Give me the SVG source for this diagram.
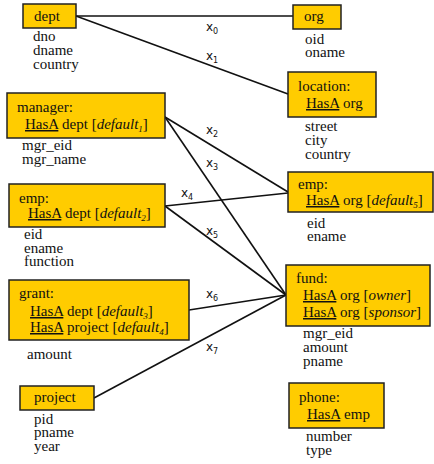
<svg xmlns="http://www.w3.org/2000/svg" width="434" height="464" viewBox="0 0 434 464" font-family="Liberation Serif, Times New Roman, serif">
<style>
.box{fill:#FFCC00;stroke:#222;stroke-width:1.5}
.t{font-family:"Liberation Serif","Times New Roman",serif;font-size:15px;fill:#111}
.lbl{font-family:"DejaVu Sans","Liberation Sans",sans-serif;font-size:12px;fill:#111}
.sub{font-size:8px}
.ln{stroke:#111;stroke-width:1.6;fill:none}
</style>
<rect width="434" height="464" fill="#fff"/>
<g id="connectors">
<line class="ln" x1="76" y1="16" x2="293" y2="16"/>
<line class="ln" x1="76" y1="16" x2="288" y2="94"/>
<line class="ln" x1="165" y1="117" x2="288" y2="192"/>
<line class="ln" x1="165" y1="117" x2="286" y2="295"/>
<line class="ln" x1="165" y1="206" x2="288" y2="193"/>
<line class="ln" x1="165" y1="206" x2="286" y2="295"/>
<line class="ln" x1="189" y1="310" x2="286" y2="295"/>
<line class="ln" x1="94" y1="398" x2="286" y2="295"/>
<text class="lbl" x="206" y="31">x<tspan class="sub" dy="3">0</tspan></text>
<text class="lbl" x="206" y="60">x<tspan class="sub" dy="3">1</tspan></text>
<text class="lbl" x="206" y="134">x<tspan class="sub" dy="3">2</tspan></text>
<text class="lbl" x="206" y="167">x<tspan class="sub" dy="3">3</tspan></text>
<text class="lbl" x="181" y="197">x<tspan class="sub" dy="3">4</tspan></text>
<text class="lbl" x="206" y="235">x<tspan class="sub" dy="3">5</tspan></text>
<text class="lbl" x="206" y="298">x<tspan class="sub" dy="3">6</tspan></text>
<text class="lbl" x="206" y="351">x<tspan class="sub" dy="3">7</tspan></text>
</g>
<g id="dept">
<rect class="box" x="23" y="4" width="53" height="24"/>
<text class="t" x="34" y="21">dept</text>
<text class="t" x="33" y="41">dno</text><text class="t" x="33" y="55">dname</text><text class="t" x="33" y="69">country</text>
</g>
<g id="org">
<rect class="box" x="293" y="5" width="48" height="24"/>
<text class="t" x="304" y="21">org</text>
<text class="t" x="305" y="44">oid</text><text class="t" x="305" y="57">oname</text>
</g>
<g id="location">
<rect class="box" x="288" y="72" width="88" height="45"/>
<text class="t" x="298" y="91">location:</text>
<text class="t" x="306" y="108"><tspan text-decoration="underline">HasA</tspan> org</text>
<text class="t" x="305" y="131">street</text><text class="t" x="305" y="145">city</text><text class="t" x="305" y="159">country</text>
</g>
<g id="manager">
<rect class="box" x="7" y="93" width="158" height="45"/>
<text class="t" x="17" y="112">manager:</text>
<text class="t" x="25" y="129"><tspan text-decoration="underline">HasA</tspan> dept [<tspan font-style="italic">default</tspan><tspan font-style="italic" font-size="9" dy="3">1</tspan><tspan dy="-3">]</tspan></text>
<text class="t" x="22" y="150">mgr_eid</text><text class="t" x="22" y="164">mgr_name</text>
</g>
<g id="emp1">
<rect class="box" x="9" y="184" width="156" height="43"/>
<text class="t" x="19" y="203">emp:</text>
<text class="t" x="28" y="218"><tspan text-decoration="underline">HasA</tspan> dept [<tspan font-style="italic">default</tspan><tspan font-style="italic" font-size="9" dy="3">2</tspan><tspan dy="-3">]</tspan></text>
<text class="t" x="24" y="239">eid</text><text class="t" x="24" y="253">ename</text><text class="t" x="24" y="266">function</text>
</g>
<g id="emp2">
<rect class="box" x="288" y="172" width="145" height="40"/>
<text class="t" x="298" y="189">emp:</text>
<text class="t" x="306" y="205"><tspan text-decoration="underline">HasA</tspan> org [<tspan font-style="italic">default</tspan><tspan font-style="italic" font-size="9" dy="3">5</tspan><tspan dy="-3">]</tspan></text>
<text class="t" x="307" y="228">eid</text><text class="t" x="307" y="241">ename</text>
</g>
<g id="grant">
<rect class="box" x="9" y="280" width="180" height="60"/>
<text class="t" x="19" y="298">grant:</text>
<text class="t" x="30" y="316"><tspan text-decoration="underline">HasA</tspan> dept [<tspan font-style="italic">default</tspan><tspan font-style="italic" font-size="9" dy="3">3</tspan><tspan dy="-3">]</tspan></text>
<text class="t" x="30" y="332"><tspan text-decoration="underline">HasA</tspan> project [<tspan font-style="italic">default</tspan><tspan font-style="italic" font-size="9" dy="3">4</tspan><tspan dy="-3">]</tspan></text>
<text class="t" x="27" y="359">amount</text>
</g>
<g id="fund">
<rect class="box" x="286" y="265" width="144" height="61"/>
<text class="t" x="296" y="283">fund:</text>
<text class="t" x="303" y="300"><tspan text-decoration="underline">HasA</tspan> org [<tspan font-style="italic">owner</tspan>]</text>
<text class="t" x="303" y="317"><tspan text-decoration="underline">HasA</tspan> org [<tspan font-style="italic">sponsor</tspan>]</text>
<text class="t" x="303" y="338">mgr_eid</text><text class="t" x="303" y="352">amount</text><text class="t" x="303" y="366">pname</text>
</g>
<g id="project">
<rect class="box" x="20" y="386" width="74" height="24"/>
<text class="t" x="34" y="402">project</text>
<text class="t" x="34" y="424">pid</text><text class="t" x="34" y="437">pname</text><text class="t" x="34" y="451">year</text>
</g>
<g id="phone">
<rect class="box" x="289" y="383" width="95" height="45"/>
<text class="t" x="299" y="402">phone:</text>
<text class="t" x="307" y="419"><tspan text-decoration="underline">HasA</tspan> emp</text>
<text class="t" x="306" y="441">number</text><text class="t" x="306" y="455">type</text>
</g>
</svg>
